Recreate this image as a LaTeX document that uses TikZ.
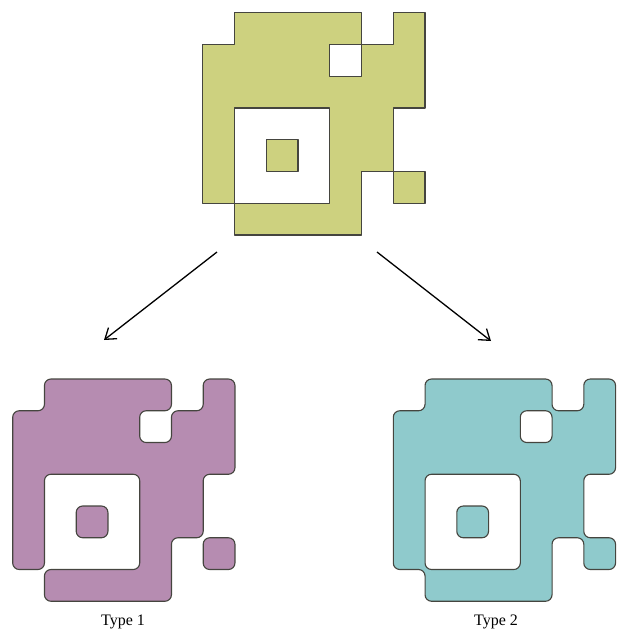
\documentclass[tikz,border=0pt]{standalone}
\usepackage{fontspec}
\setmainfont{Liberation Serif}
\usetikzlibrary{arrows.meta}
\definecolor{topfill}{HTML}{CDD17F}
\definecolor{purplefill}{HTML}{B68CB1}
\definecolor{tealfill}{HTML}{8FCACC}
\definecolor{edgecol}{HTML}{45453F}
\tikzset{
  shapeline/.style={draw=edgecol, line width=1.1pt, line join=round},
  roundcell/.style={rounded corners=6.5pt},
  arrowline/.style={line width=1.3pt, -{Straight Barb[length=10pt,width=14pt,line width=1.3pt]}},
  typelabel/.style={font=\fontsize{16}{18}\selectfont, inner sep=0pt}
}
\begin{document}
\begin{tikzpicture}[x=1pt,y=-1pt]
\useasboundingbox (0,0) rectangle (618,630);

% top shape (square corners)
\begin{scope}[shift={(202.7pt,-12.7pt)}, x=31.75pt, y=-31.75pt]
  \path[fill=topfill, even odd rule, shapeline]
    (1,0) -- (5,0) -- (5,1) -- (6,1) -- (6,0) -- (7,0) -- (7,3) -- (6,3) -- (6,5)
    -- (7,5) -- (7,6) -- (6,6) -- (6,5) -- (5,5) -- (5,7) -- (1,7) -- (1,6) -- (0,6)
    -- (0,1) -- (1,1) -- cycle
    (4,1) rectangle (5,2)
    (1,3) rectangle (4,6)
    (2,4) rectangle (3,5);
\end{scope}

% Type 1 (foreground split at diagonal contacts)
\begin{scope}[shift={(12.7pt,-379pt)}, x=31.75pt, y=-31.75pt]
  \path[fill=purplefill, even odd rule, shapeline, roundcell]
    (1,0) -- (5,0) -- (5,1) -- (4,1) -- (4,2) -- (5,2) -- (5,1) -- (6,1) -- (6,0)
    -- (7,0) -- (7,3) -- (6,3) -- (6,5) -- (5,5) -- (5,7) -- (1,7) -- (1,6) -- (4,6)
    -- (4,3) -- (1,3) -- (1,6) -- (0,6) -- (0,1) -- (1,1) -- cycle
    (2,4) rectangle (3,5);
  \path[fill=purplefill, shapeline, roundcell] (6,5) rectangle (7,6);
\end{scope}

% Type 2 (foreground joined at diagonal contacts)
\begin{scope}[shift={(393.3pt,-379pt)}, x=31.75pt, y=-31.75pt]
  \path[fill=tealfill, even odd rule, shapeline, roundcell]
    (1,0) -- (5,0) -- (5,1) -- (6,1) -- (6,0) -- (7,0) -- (7,3) -- (6,3) -- (6,5)
    -- (7,5) -- (7,6) -- (6,6) -- (6,5) -- (5,5) -- (5,7) -- (1,7) -- (1,6) -- (0,6)
    -- (0,1) -- (1,1) -- cycle
    (4,1) rectangle (5,2)
    (1,3) rectangle (4,6)
    (2,4) rectangle (3,5);
\end{scope}

% arrows
\coordinate (la) at (217,252);
\coordinate (lb) at (104,340);
\coordinate (ra) at (377,252);
\coordinate (rb) at (491,341);
\draw[arrowline] (la) -- (lb);
\draw[arrowline] (ra) -- (rb);

% labels
\node[typelabel] (t1) at (123,622) {Type 1};
\node[typelabel] (t2) at (496,622) {Type 2};
\end{tikzpicture}
\end{document}
